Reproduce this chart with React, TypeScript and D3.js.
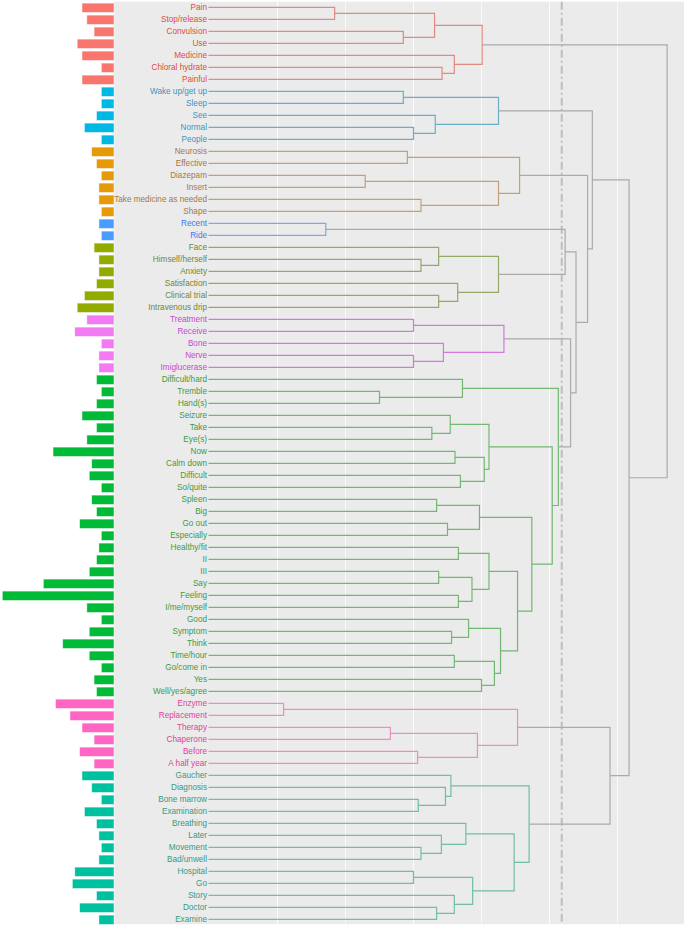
import React from 'react';
import * as d3 from 'd3';

// leaves, top to bottom
const labels = [
  'Pain', 'Stop/release', 'Convulsion', 'Use', 'Medicine', 'Chloral hydrate', 'Painful',
  'Wake up/get up', 'Sleep', 'See', 'Normal', 'People',
  'Neurosis', 'Effective', 'Diazepam', 'Insert', 'Take medicine as needed', 'Shape',
  'Recent', 'Ride',
  'Face', 'Himself/herself', 'Anxiety', 'Satisfaction', 'Clinical trial', 'Intravenous drip',
  'Treatment', 'Receive', 'Bone', 'Nerve', 'Imiglucerase',
  'Difficult/hard', 'Tremble', 'Hand(s)', 'Seizure', 'Take', 'Eye(s)', 'Now', 'Calm down',
  'Difficult', 'So/quite', 'Spleen', 'Big', 'Go out', 'Especially', 'Healthy/fit', 'II', 'III',
  'Say', 'Feeling', 'I/me/myself', 'Good', 'Symptom', 'Think', 'Time/hour', 'Go/come in', 'Yes',
  'Well/yes/agree',
  'Enzyme', 'Replacement', 'Therapy', 'Chaperone', 'Before', 'A half year',
  'Gaucher', 'Diagnosis', 'Bone marrow', 'Examination', 'Breathing', 'Later', 'Movement',
  'Bad/unwell', 'Hospital', 'Go', 'Story', 'Doctor', 'Examine',
];

// word frequency (left bars)
const wordCounts = [
  13, 11, 8, 15, 13, 5, 13,
  5, 5, 7, 12, 5,
  9, 7, 5, 6, 6, 5,
  6, 5,
  8, 6, 6, 7, 12, 15,
  11, 16, 5, 6, 6,
  7, 5, 7, 13, 7, 11, 25, 9, 10, 5, 9, 7, 14, 5, 6, 7, 10, 29, 46, 11, 5, 10, 21, 10, 5, 8, 7,
  24, 18, 13, 8, 14, 8,
  13, 9, 5, 12, 7, 6, 5, 6, 16, 17, 7, 14, 6,
];

const clusterSizes = [7, 5, 6, 2, 6, 5, 27, 6, 13];
const barColors = ['#F8766D', '#00B9E3', '#E69A08', '#4A9DFF', '#93AA00', '#F27AF2', '#00BA38', '#FF66C4', '#00C19F'];
const textColors = ['#DE4B3E', '#3C94C4', '#A8773F', '#3A7AE6', '#6F8A2C', '#CC44D6', '#3C9C3C', '#E0429A', '#3A9A7E'];
const branchColors = ['#E08A80', '#6AAFC8', '#C4A07A', '#7FA6E8', '#94A868', '#D478DD', '#72B872', '#EE8EC0', '#70BFA2'];

// hclust style merges: negative = leaf (1-based), positive = earlier merge (1-based), height
const merges: [number, number, number][] = [
  [-1, -2, 1.84], [-3, -4, 2.85], [-6, -7, 3.42], [-5, 3, 3.6], [1, 2, 3.31], [5, 4, 4.01],
  [-8, -9, 2.85], [-11, -12, 3.0], [-10, 8, 3.32], [7, 9, 4.25],
  [-13, -14, 2.91], [-15, -16, 2.29], [-17, -18, 3.11], [12, 13, 4.25], [11, 14, 4.56],
  [-19, -20, 1.71],
  [-22, -23, 3.11], [-21, 17, 3.37], [-25, -26, 3.37], [-24, 19, 3.65], [18, 20, 4.25],
  [-27, -28, 3.0], [-30, -31, 3.0], [-29, 23, 3.44], [22, 24, 4.33],
  [-33, -34, 2.5], [-32, 26, 3.72], [-36, -37, 3.27], [-35, 28, 3.54], [-38, -39, 3.61],
  [-40, -41, 3.69], [30, 31, 4.04], [29, 32, 4.11], [-42, -43, 3.34], [-44, -45, 3.5],
  [34, 35, 3.97], [-46, -47, 3.66], [-48, -49, 3.37], [-50, -51, 3.66], [38, 39, 3.86],
  [37, 40, 4.11], [-53, -54, 3.56], [-52, 42, 3.81], [-55, -56, 3.6], [-57, -58, 4.0],
  [44, 45, 4.19], [43, 46, 4.28], [41, 47, 4.53], [36, 48, 4.74], [33, 49, 5.04], [27, 50, 5.13],
  [-59, -60, 1.09], [-61, -62, 2.66], [-63, -64, 3.06], [53, 54, 3.94], [52, 55, 4.53],
  [-67, -68, 3.07], [-66, 57, 3.47], [-65, 58, 3.55], [-71, -72, 3.11], [-70, 60, 3.41],
  [-69, 61, 3.77], [-73, -74, 3.0], [-76, -77, 3.34], [-75, 64, 3.6], [63, 65, 3.87],
  [62, 66, 4.48], [59, 67, 4.7],
  [16, 21, 5.23], [25, 51, 5.31], [69, 70, 5.39], [15, 71, 5.56], [10, 72, 5.63],
  [56, 68, 5.89], [73, 74, 6.17], [6, 75, 6.73],
];

const cutHeight = 5.18;
const gridTicks = [1, 2, 3, 4, 5, 6];

export default function App() {
  const W = 685;
  const H = 926;
  const x = d3.scaleLinear().domain([0, 7]).range([209.5, 685.5]);
  const y = d3.scalePoint<string>().domain(labels).range([7.3, 919.3]);
  const xBar = d3.scaleLinear().domain([0, 46]).range([113.4, 2.3]);
  const barRight = 114;

  const leafCluster: number[] = clusterSizes.flatMap((n, k) => Array(n).fill(k));

  const mY: number[] = [];
  const mC: number[] = [];
  const posY = (id: number) => (id < 0 ? (y(labels[-id - 1]) as number) : mY[id - 1]);
  const posH = (id: number) => (id < 0 ? 0 : merges[id - 1][2]);
  const clus = (id: number) => (id < 0 ? leafCluster[-id - 1] : mC[id - 1]);
  merges.forEach(([a, b]) => {
    mY.push((posY(a) + posY(b)) / 2);
    mC.push(clus(a) === clus(b) ? clus(a) : -1);
  });

  const font = 'Liberation Sans, Arial, Helvetica, sans-serif';

  return (
    <div style={{ position: 'absolute', left: 0, top: 0 }}>
      <svg width={W} height={H} style={{ display: 'block', background: '#fff' }}>
        <rect x={barRight} y={1.7} width={684 - barRight} height={922.5} fill="#EBEBEB" />
        {gridTicks.map((t) => (
          <line key={t} x1={x(t)} x2={x(t)} y1={1.7} y2={924.2} stroke="#fff" strokeWidth={t % 2 ? 1 : 0.8} opacity={0.9} />
        ))}

        {labels.map((lab, i) => (
          <rect
            key={'b' + lab}
            x={xBar(wordCounts[i])}
            y={(y(lab) as number) - 4.2}
            width={barRight - xBar(wordCounts[i])}
            height={9.4}
            fill={barColors[leafCluster[i]]}
            stroke="#fff"
            strokeOpacity={0.6}
            strokeWidth={0.8}
          />
        ))}

        <line
          x1={x(cutHeight)} x2={x(cutHeight)} y1={1.7} y2={924.2}
          stroke="#BEBEBE" strokeWidth={2} strokeDasharray="8,3,2,3"
        />

        {merges.map(([a, b, h], i) => {
          const c = mC[i];
          const col = c >= 0 ? branchColors[c] : '#ABABAB';
          const xa = a < 0 ? x(0) - 1 : x(posH(a));
          const xb = b < 0 ? x(0) - 1 : x(posH(b));
          const d = `M${xa},${posY(a)}H${x(h)}V${posY(b)}H${xb}`;
          return <path key={'m' + i} d={d} fill="none" stroke={col} strokeWidth={1.2} />;
        })}

        {labels.map((lab, i) => (
          <text
            key={'t' + lab}
            x={207}
            y={y(lab) as number}
            dy="0.35em"
            textAnchor="end"
            fontFamily={font}
            fontSize={8.2}
            fill={textColors[leafCluster[i]]}
          >
            {lab}
          </text>
        ))}
      </svg>
    </div>
  );
}
